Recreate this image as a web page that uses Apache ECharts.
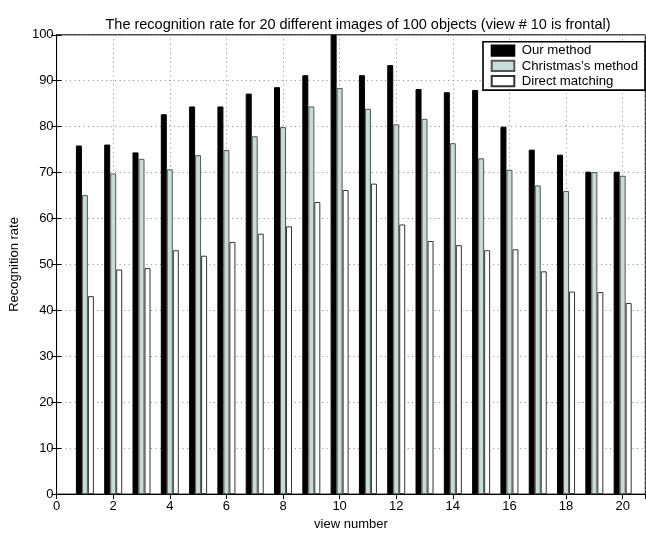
<!DOCTYPE html>
<html>
<head>
<meta charset="utf-8">
<script src="https://cdn.jsdelivr.net/npm/echarts@6/dist/echarts.min.js"></script>
<style>
html,body{margin:0;padding:0;background:#fff;}
#chart{width:646px;height:536px;}
</style>
</head>
<body>
<div id="chart"></div>
<script>
var views = [1,2,3,4,5,6,7,8,9,10,11,12,13,14,15,16,17,18,19,20];
var ourMethod = [75.9,76.1,74.4,82.7,84.4,84.4,87.2,88.6,91.2,100,91.2,93.4,88.2,87.5,88.0,80.0,75.0,73.9,70.2,70.2];
var christmasMethod = [65.1,69.8,73.0,70.7,73.8,74.9,77.9,79.9,84.4,88.4,83.9,80.5,81.7,76.4,73.1,70.6,67.2,66.0,70.1,69.3];
var directMatching = [43.1,48.9,49.2,53.1,51.9,54.9,56.7,58.3,63.6,66.2,67.6,58.7,55.1,54.2,53.1,53.3,48.5,44.1,44.0,41.6];
var seriesNames = ['Our method', "Christmas\u2019s method", 'Direct matching'];
var xMin = 0, xMax = 20.8, xStep = 2;
var yMin = 0, yMax = 100, yStep = 10;

function pairs(vals){ return views.map(function(v,i){ return [v, vals[i]]; }); }

var font = 'Liberation Sans, Arial, Helvetica, sans-serif';
var dotted = {color:'#8a8a8a', type:[1,3.5], width:1};
var chart = echarts.init(document.getElementById('chart'), null, {renderer:'canvas'});
chart.setOption({
  animation:false,
  backgroundColor:'#fff',
  title:{
    text:'The recognition rate for 20 different images of 100 objects (view # 10 is frontal)',
    left:353, top:12.5, textAlign:'center',
    textStyle:{fontFamily:font, fontSize:14.5, fontWeight:'normal', color:'#000'}
  },
  legend:{
    orient:'vertical', left:483, top:41.7,
    data:seriesNames,
    icon:'rect', itemWidth:22.6, itemHeight:10.3, itemGap:1.2,
    padding:[2,7,2,7.7],
    backgroundColor:'#fff', borderColor:'#000', borderWidth:1.6,
    textStyle:{fontFamily:font, fontSize:13.2, color:'#000', lineHeight:14, padding:[0,0,0,2.4]}
  },
  grid:{left:56, top:34.8, width:589.3, height:469.5, show:true, borderColor:'#000', borderWidth:1, backgroundColor:'transparent'},
  xAxis:[{
    type:'value', min:xMin, max:xMax, interval:xStep,
    name:'view number', nameLocation:'middle', nameGap:20,
    nameTextStyle:{fontFamily:font, fontSize:13, color:'#000'},
    axisLine:{show:true, lineStyle:{color:'#000', width:1}},
    axisTick:{show:true, inside:true, length:5, lineStyle:{color:'#000'}},
    axisLabel:{margin:6, fontFamily:font, fontSize:13, color:'#000', showMaxLabel:false},
    splitLine:{show:true, lineStyle:dotted}
  },{
    type:'value', min:xMin, max:xMax, interval:xStep, position:'top',
    axisLine:{show:true, lineStyle:{color:'#000', width:1}},
    axisTick:{show:true, inside:true, length:5, lineStyle:{color:'#000'}},
    axisLabel:{show:false}, splitLine:{show:false}
  }],
  yAxis:[{
    type:'value', min:yMin, max:yMax, interval:yStep,
    name:'Recognition rate', nameLocation:'middle', nameGap:32,
    nameTextStyle:{fontFamily:font, fontSize:13, color:'#000'},
    axisLine:{show:true, lineStyle:{color:'#000', width:1}},
    axisTick:{show:true, inside:true, length:5, lineStyle:{color:'#000'}},
    axisLabel:{margin:3, fontFamily:font, fontSize:13, color:'#000'},
    splitLine:{show:true, lineStyle:dotted}
  },{
    type:'value', min:yMin, max:yMax, interval:yStep, position:'right',
    axisLine:{show:true, lineStyle:{color:'#000', width:1}},
    axisTick:{show:true, inside:true, length:5, lineStyle:{color:'#000'}},
    axisLabel:{show:false}, splitLine:{show:false}
  }],
  series:[
    {name:seriesNames[0], type:'bar', data:pairs(ourMethod), barWidth:6, barGap:'0%',
     itemStyle:{color:'#000', borderColor:'#000', borderWidth:1}},
    {name:seriesNames[1], type:'bar', data:pairs(christmasMethod), barWidth:6, barGap:'0%',
     itemStyle:{color:'#c6dcd9', borderColor:'#555', borderWidth:1}},
    {name:seriesNames[2], type:'bar', data:pairs(directMatching), barWidth:6, barGap:'0%',
     itemStyle:{color:'#fff', borderColor:'#333', borderWidth:1}}
  ]
});
</script>
</body>
</html>
